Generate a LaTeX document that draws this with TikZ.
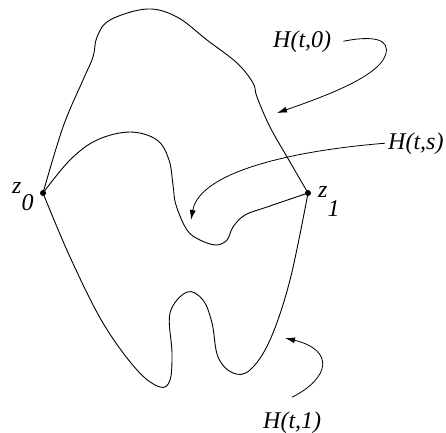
\documentclass[tikz,border=0pt]{standalone}
\usepackage{fontspec}
\setmainfont{Liberation Serif}
\usetikzlibrary{arrows.meta}

\begin{document}
\begin{tikzpicture}[x=1pt, y=-1pt,
    curve/.style={line width=0.9pt},
    pointer/.style={line width=0.8pt, -{Latex[length=10pt,width=6pt]}},
    dot/.style={circle, fill, inner sep=0pt, minimum size=6pt},
    lbl/.style={inner sep=0pt, anchor=base west, font=\fontsize{24}{28}\selectfont\itshape}]

    \useasboundingbox (0,0) rectangle (446,432);

    % end points
    \node[dot] (z0) at (43,193) {};
    \node[dot] (z1) at (308,193) {};
    \node[lbl] (z0lbl) at (12,193) {z\raisebox{-17pt}{0}};
    \node[lbl] (z1lbl) at (318,197) {z\raisebox{-19pt}{1}};

    % the three paths
    \draw[curve] plot[smooth, tension=0.6] coordinates {(z0.center) (63,127) (83,80) (93,57) (97,37) (110,20) (147,9) (177,17) (207,40) (237,63) (253,83) (257,97) (270,127) (290,162) (z1.center)};
    \draw[curve] plot[smooth, tension=0.6] coordinates {(z0.center) (70,160) (97,140) (130,132) (157,140) (169,160) (173,185) (176,205) (187,230) (200,240) (216,245) (227,240) (233,227) (245,215) (267,207) (z1.center)};
    \draw[curve] plot[smooth, tension=0.6] coordinates {(z0.center) (70,257) (103,323) (137,370) (160,387) (170,380) (172,353) (170,313) (187,292) (203,300) (212,323) (218,357) (233,373) (250,370) (270,340) (290,280) (z1.center)};

    % labels
    \node[lbl] (h0) at (273,47) {H(t,0)};
    \node[lbl] (hs) at (388,149) {H(t,s)};
    \node[lbl] (h1) at (263,428) {H(t,1)};

    \coordinate (t0) at (277,113);
    \coordinate (ts) at (191,220);
    \coordinate (t1) at (285,338);

    \draw[pointer] ([xshift=12pt]h0.east) .. controls (385,33) and (392,45) .. (383,60) .. controls (370,80) and (320,98) .. (t0);
    \draw[pointer] ([xshift=-3pt]hs.west) .. controls (300,150) and (200,170) .. (ts);
    \draw[pointer] ([yshift=14pt]h1.north) .. controls (330,378) and (335,350) .. (t1);
\end{tikzpicture}
\end{document}
